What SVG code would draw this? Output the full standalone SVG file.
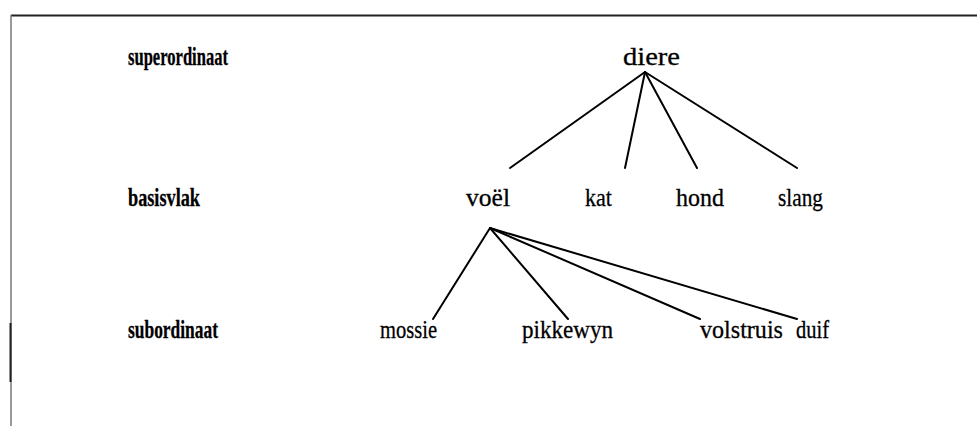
<svg xmlns="http://www.w3.org/2000/svg" width="977" height="426" viewBox="0 0 977 426">
<style>
text{font-family:"Liberation Serif","Times New Roman",serif;font-size:26px;fill:#000;stroke:#000;stroke-width:0.3}
.lvl{font-weight:bold}
.c line{stroke:#000;stroke-width:2;stroke-linecap:round}
</style>
<rect width="977" height="426" fill="#fff"/>
<g id="frame">
<line x1="11" y1="15.5" x2="977" y2="15.5" stroke="#222" stroke-width="2.2"/>
<line x1="11" y1="15" x2="11" y2="426" stroke="#777" stroke-width="1.5"/>
<line x1="10.5" y1="323" x2="10.5" y2="382" stroke="#222" stroke-width="2"/>
</g>
<g id="levels">
<text class="lvl" x="128" y="65" textLength="100" lengthAdjust="spacingAndGlyphs">superordinaat</text>
<text class="lvl" x="128" y="206" textLength="72" lengthAdjust="spacingAndGlyphs">basisvlak</text>
<text class="lvl" x="128" y="338" textLength="90" lengthAdjust="spacingAndGlyphs">subordinaat</text>
</g>
<g class="c" id="connectors">
<line x1="645" y1="72" x2="510" y2="168"/>
<line x1="645" y1="72" x2="625" y2="168"/>
<line x1="645" y1="72" x2="697" y2="168"/>
<line x1="645" y1="72" x2="797" y2="168"/>
<line x1="490" y1="228" x2="433" y2="319"/>
<line x1="490" y1="228" x2="568" y2="319"/>
<line x1="490" y1="228" x2="700" y2="319"/>
<line x1="490" y1="228" x2="797" y2="319"/>
</g>
<g id="n-diere"><text x="623" y="65" textLength="57" lengthAdjust="spacingAndGlyphs">diere</text></g>
<g id="n-voel"><text x="466" y="206" textLength="44" lengthAdjust="spacingAndGlyphs">voël</text></g>
<g id="n-kat"><text x="585" y="206" textLength="27" lengthAdjust="spacingAndGlyphs">kat</text></g>
<g id="n-hond"><text x="676" y="206" textLength="48" lengthAdjust="spacingAndGlyphs">hond</text></g>
<g id="n-slang"><text x="778" y="206" textLength="45" lengthAdjust="spacingAndGlyphs">slang</text></g>
<g id="n-mossie"><text x="380" y="338" textLength="57" lengthAdjust="spacingAndGlyphs">mossie</text></g>
<g id="n-pikkewyn"><text x="522" y="338" textLength="91" lengthAdjust="spacingAndGlyphs">pikkewyn</text></g>
<g id="n-volstruis"><text x="700" y="338" textLength="83" lengthAdjust="spacingAndGlyphs">volstruis</text></g>
<g id="n-duif"><text x="796" y="338" textLength="33" lengthAdjust="spacingAndGlyphs">duif</text></g>
</svg>
